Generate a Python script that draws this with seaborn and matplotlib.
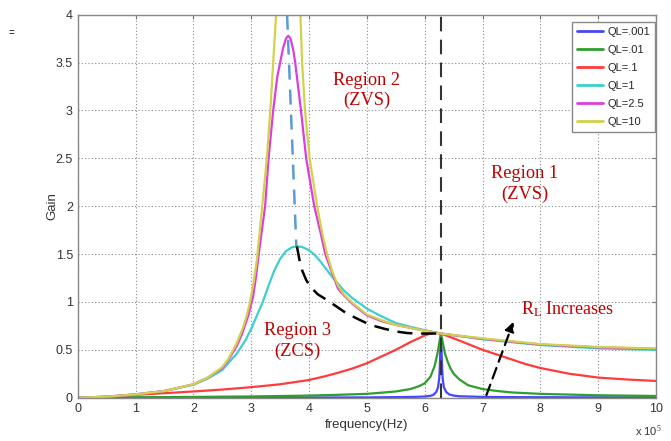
import matplotlib
matplotlib.use("Agg")
import matplotlib.pyplot as plt
import seaborn as sns
import pandas as pd

# ---- data (frequency in units of 1e5 Hz) ----
labels = ["QL=.001", "QL=.01", "QL=.1", "QL=1", "QL=2.5", "QL=10"]
colors = ["#4646ff", "#2e9e2e", "#ff3b3b", "#3ccfcf", "#dd3ddd", "#d2d24a"]

f_q0001 = [0, 2, 4, 5, 5.8, 6.0, 6.1, 6.15, 6.2, 6.23, 6.25, 6.26, 6.27, 6.28, 6.29, 6.30, 6.31, 6.33, 6.37, 6.42, 6.5, 6.6, 7.0, 7.5, 8.5, 10]
g_q0001 = [0, 0.001, 0.002, 0.003, 0.008, 0.012, 0.02, 0.03, 0.06, 0.11, 0.2, 0.32, 0.5, 0.67, 0.5, 0.32, 0.2, 0.11, 0.06, 0.035, 0.022, 0.015, 0.008, 0.006, 0.004, 0.003]

f_q001 = [0, 1, 2, 3, 4, 4.5, 5, 5.5, 5.75, 5.9, 6.0, 6.1, 6.17, 6.22, 6.25, 6.28, 6.31, 6.35, 6.4, 6.45, 6.5, 6.6, 6.75, 7.0, 7.25, 7.5, 8, 9, 10]
g_q001 = [0, 0.004, 0.008, 0.013, 0.022, 0.03, 0.04, 0.065, 0.09, 0.12, 0.15, 0.22, 0.33, 0.46, 0.57, 0.67, 0.58, 0.46, 0.37, 0.3, 0.25, 0.19, 0.13, 0.09, 0.07, 0.055, 0.04, 0.025, 0.018]

f_q01 = [0, 0.5, 1, 1.5, 2, 2.5, 3, 3.5, 4, 4.25, 4.5, 4.75, 5, 5.25, 5.5, 5.75, 6, 6.15, 6.28, 6.5, 6.75, 7, 7.25, 7.5, 7.75, 8, 8.5, 9, 9.5, 10]
g_q01 = [0, 0.01, 0.03, 0.047, 0.065, 0.085, 0.11, 0.14, 0.185, 0.22, 0.26, 0.305, 0.36, 0.43, 0.5, 0.58, 0.65, 0.68, 0.67, 0.62, 0.56, 0.5, 0.45, 0.4, 0.35, 0.31, 0.25, 0.21, 0.19, 0.175]

f_q1 = [0, 0.5, 1, 1.5, 2, 2.25, 2.5, 2.6, 2.75, 2.9, 3.0, 3.1, 3.2, 3.3, 3.4, 3.5, 3.6, 3.7, 3.79, 3.88, 4.0, 4.1, 4.2, 4.35, 4.5, 4.6, 4.75, 5, 5.25, 5.5, 5.75, 6, 6.28, 7, 8, 9, 10]
g_q1 = [0, 0.01, 0.035, 0.07, 0.135, 0.2, 0.29, 0.36, 0.46, 0.6, 0.72, 0.86, 1.0, 1.17, 1.33, 1.45, 1.53, 1.57, 1.58, 1.575, 1.54, 1.49, 1.42, 1.3, 1.19, 1.12, 1.04, 0.93, 0.85, 0.78, 0.74, 0.705, 0.67, 0.61, 0.55, 0.515, 0.5]

f_q25 = [0, 0.5, 1, 1.5, 2, 2.25, 2.5, 2.6, 2.75, 2.85, 2.95, 3.03, 3.08, 3.13, 3.24, 3.30, 3.38, 3.45, 3.50, 3.55, 3.60, 3.64, 3.68, 3.73, 3.76, 3.80, 3.86, 3.95, 4.09, 4.2, 4.28, 4.4, 4.5, 4.6, 4.75, 5.0, 5.25, 5.5, 6, 6.28, 7, 8, 9, 10]
g_q25 = [0, 0.01, 0.035, 0.07, 0.14, 0.21, 0.31, 0.39, 0.54, 0.68, 0.86, 1.05, 1.25, 1.5, 2.0, 2.5, 3.0, 3.35, 3.5, 3.65, 3.75, 3.78, 3.75, 3.62, 3.5, 3.3, 3.0, 2.5, 2.0, 1.72, 1.5, 1.3, 1.14, 1.07, 0.98, 0.86, 0.8, 0.76, 0.70, 0.67, 0.615, 0.555, 0.525, 0.51]

f_q10 = [0, 0.5, 1, 1.5, 2, 2.25, 2.5, 2.6, 2.75, 2.85, 2.92, 2.98, 3.04, 3.1, 3.19, 3.27, 3.33, 3.38, 3.43, 3.5, 3.63, 3.75, 3.85, 3.88, 3.93, 4.01, 4.14, 4.22, 4.31, 4.4, 4.5, 4.6, 4.75, 5.0, 5.25, 5.5, 6.0, 6.28, 7, 8, 9, 10]
g_q10 = [0, 0.01, 0.035, 0.07, 0.14, 0.21, 0.32, 0.4, 0.57, 0.72, 0.85, 1.0, 1.2, 1.45, 2.0, 2.5, 3.0, 3.5, 4.0, 5.0, 9.0, 6.0, 4.0, 3.5, 3.0, 2.5, 2.0, 1.74, 1.5, 1.32, 1.17, 1.08, 0.99, 0.87, 0.81, 0.76, 0.70, 0.67, 0.62, 0.56, 0.53, 0.515]

# annotation guide lines
peak_locus_f = [3.62, 3.78]
peak_locus_g = [4.0, 1.58]
boundary_f = [3.79, 3.84, 3.88, 3.95, 4.02, 4.15, 4.31, 4.48, 4.65, 4.85, 5.06, 5.3, 5.52, 5.7, 5.87, 6.27]
boundary_g = [1.58, 1.42, 1.33, 1.23, 1.16, 1.08, 1.02, 0.95, 0.88, 0.82, 0.76, 0.72, 0.69, 0.675, 0.67, 0.67]
f_res = 6.28
arrow_start = (7.05, 0.0)
arrow_end = (7.55, 0.82)

series_f = [f_q0001, f_q001, f_q01, f_q1, f_q25, f_q10]
series_g = [g_q0001, g_q001, g_q01, g_q1, g_q25, g_q10]

rows = []
for lab, fs, gs in zip(labels, series_f, series_g):
    for f, g in zip(fs, gs):
        rows.append({"freq": f, "gain": g, "QL": lab})
df = pd.DataFrame(rows)

sns.set_style("white")
plt.rcParams["font.family"] = ["Liberation Sans", "DejaVu Sans"]
plt.rcParams["mathtext.fontset"] = "custom"
plt.rcParams["mathtext.rm"] = "Liberation Serif"

fig = plt.figure(figsize=(6.71, 4.41), dpi=100)
ax = fig.add_axes([0.1158, 0.0982, 0.862, 0.8685])

sns.lineplot(data=df, x="freq", y="gain", hue="QL", hue_order=labels,
             palette=colors, estimator=None, sort=False, units="QL",
             linewidth=1.6, ax=ax, legend=True)

ax.set_xlim(0, 10)
ax.set_ylim(0, 4)
ax.set_xticks(range(0, 11))
ax.set_yticks([0, 0.5, 1, 1.5, 2, 2.5, 3, 3.5, 4])
ax.set_yticklabels(["0", "0.5", "1", "1.5", "2", "2.5", "3", "3.5", "4"])
ax.grid(True, linestyle=(0, (1, 2)), color="#8a8a8a", linewidth=0.8)
ax.tick_params(direction="in", length=3, color="#777777", labelsize=9,
               labelcolor="#333333", top=True, right=True)
for s in ax.spines.values():
    s.set_color("#888888")
    s.set_linewidth(1.0)
ax.set_xlabel("frequency(Hz)", fontsize=9.5, color="#333333", labelpad=3)
ax.set_ylabel("Gain", fontsize=9.5, color="#333333", labelpad=-2)

# guide lines
ax.plot(peak_locus_f, peak_locus_g, color="#5b9bd5", lw=1.8, dashes=(6, 4))
ax.plot(boundary_f, boundary_g, color="black", lw=1.8, dashes=(6, 3.5))
ax.plot([f_res, f_res], [0, 4], color="#333333", lw=1.5, dashes=(7, 4))
ax.annotate("", xy=arrow_end, xytext=arrow_start,
            arrowprops=dict(arrowstyle="-|>", color="black", lw=1.6,
                            linestyle=(0, (5, 3)), mutation_scale=14))

red = "#c00000"
serif = ["Liberation Serif", "DejaVu Serif"]
kw = dict(color=red, fontsize=13.2, family=serif, ha="center", va="center",
          linespacing=1.25)
ax.text(5.0, 3.21, "Region 2\n(ZVS)", **kw)
ax.text(7.73, 2.23, "Region 1\n(ZVS)", **kw)
ax.text(3.80, 0.59, "Region 3\n(ZCS)", **kw)
ax.text(7.67, 0.92, r"$\mathrm{R_L}$ Increases", color=red, fontsize=13,
        family=serif, ha="left", va="center")

leg = ax.legend(loc="upper right", bbox_to_anchor=(0.998, 0.982),
                fontsize=8, handlelength=2.3, labelspacing=0.72,
                borderaxespad=0.0, fancybox=False, framealpha=1,
                edgecolor="#888888", borderpad=0.45, handletextpad=0.4,
                title=None)
for line in leg.get_lines():
    line.set_linewidth(2.0)

fig.text(0.947, 0.012, r"x 10$^5$", fontsize=8, color="#333333")
fig.text(0.013, 0.918, "=", fontsize=7, color="black")

fig.savefig("out.png", dpi=100)
